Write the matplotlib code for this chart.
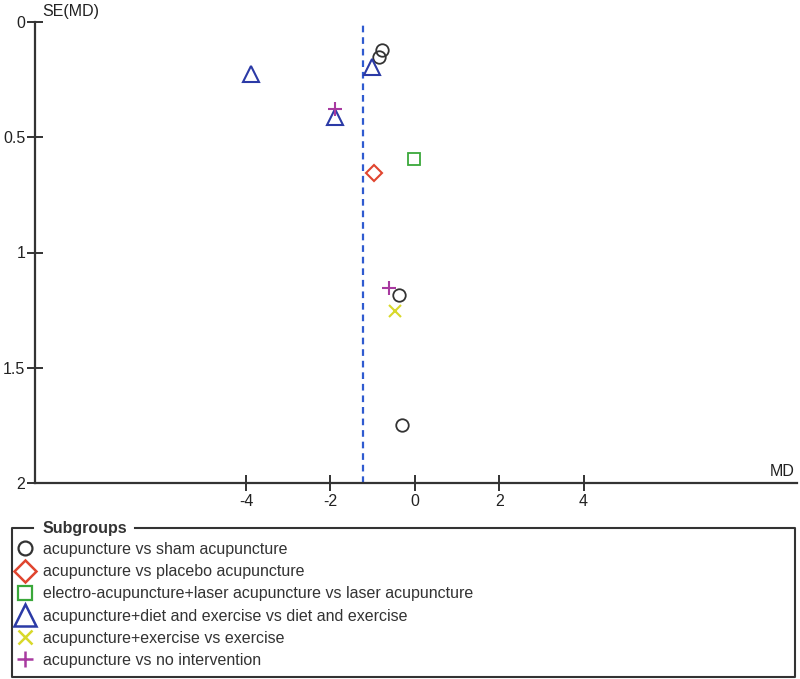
import matplotlib
matplotlib.use("Agg")
import matplotlib.pyplot as plt
from matplotlib.lines import Line2D

plt.rcParams['font.family'] = ['Liberation Sans', 'DejaVu Sans']

# ---- data ----
subgroups = [
    "acupuncture vs sham acupuncture",
    "acupuncture vs placebo acupuncture",
    "electro-acupuncture+laser acupuncture vs laser acupuncture",
    "acupuncture+diet and exercise vs diet and exercise",
    "acupuncture+exercise vs exercise",
    "acupuncture vs no intervention",
]
md_sham = [-0.77, -0.85, -0.38, -0.30]
se_sham = [0.123, 0.155, 1.184, 1.749]
md_placebo = [-0.97]
se_placebo = [0.655]
md_electro = [-0.02]
se_electro = [0.596]
md_diet = [-3.89, -1.01, -1.90]
se_diet = [0.227, 0.196, 0.413]
md_exercise = [-0.47]
se_exercise = [1.253]
md_noint = [-1.89, -0.61]
se_noint = [0.377, 1.152]
pooled_md = -1.23

x_ticks = [-4, -2, 0, 2, 4]
y_ticks = [0, 0.5, 1, 1.5, 2]
y_ticklabels = ["0", "0.5", "1", "1.5", "2"]

W, H = 800, 679
fig = plt.figure(figsize=(8.0, 6.79), dpi=100)
ax = fig.add_axes([35 / W, 1 - 483.3 / H, (796.7 - 35) / W, (483.3 - 21.7) / H])

# (x, y, marker, colour, plot size, legend size, edge width)
styles = [
    (md_sham, se_sham, 'o', '#333333', 9, 10, 1.3),
    (md_placebo, se_placebo, 'D', '#e0452f', 8.5, 11, 1.5),
    (md_electro, se_electro, 's', '#3aa83a', 8.5, 9.5, 1.3),
    (md_diet, se_diet, '^', '#2b3aa6', 12, 16, 1.5),
    (md_exercise, se_exercise, 'x', '#d8d82a', 9, 10, 1.5),
    (md_noint, se_noint, '+', '#a83aa0', 10, 11.5, 1.5),
]
handles = []
for (xs, ys, m, c, ms, lms, lw), lab in zip(styles, subgroups):
    ax.plot(xs, ys, linestyle='none', marker=m, markersize=ms, markerfacecolor='none',
            markeredgecolor=c, markeredgewidth=lw, zorder=3)
    handles.append(Line2D([], [], linestyle='none', marker=m, markersize=lms,
                          markerfacecolor='none', markeredgecolor=c,
                          markeredgewidth=lw + 0.3, label=lab))

ax.axvline(pooled_md, color='#2f5bd0', linestyle=(0, (3, 2.2)), linewidth=1.6, zorder=2)

ax.set_xlim(-9.0, 9.05)
ax.set_ylim(2, 0)
ax.set_xticks(x_ticks)
ax.set_xticklabels([str(v) for v in x_ticks])
ax.set_yticks(y_ticks)
ax.set_yticklabels(y_ticklabels)
for s in ['top', 'right']:
    ax.spines[s].set_visible(False)
for s in ['left', 'bottom']:
    ax.spines[s].set_color('#333333')
    ax.spines[s].set_linewidth(1.6)
ax.tick_params(axis='both', direction='inout', length=12, width=1.4, color='#333333',
               labelsize=11.5, labelcolor='#222222', pad=2)
ax.tick_params(axis='y', pad=1)

fig.text(42.7 / W, 1 - 11.7 / H, "SE(MD)", fontsize=11.5, color='#222222',
         ha='left', va='center')
fig.text(795 / W, 1 - 471.7 / H, "MD", fontsize=11.5, color='#222222',
         ha='right', va='center')

# legend
leg = fig.legend(handles=handles, loc='upper left',
                 bbox_to_anchor=(17 / W, 1 - 542 / H), frameon=False,
                 fontsize=11.5, labelspacing=0.45, handlelength=1.0,
                 handletextpad=0.62, borderpad=0, borderaxespad=0)
for t in leg.get_texts():
    t.set_color('#333333')

fig.text(43 / W, 1 - 528 / H, "Subgroups", fontsize=11.5, fontweight='bold',
         color='#333333', ha='left', va='center')
bc = '#333333'
blw = 1.5
def fl(xs, ys):
    fig.add_artist(Line2D([x / W for x in xs], [1 - y / H for y in ys],
                          color=bc, linewidth=blw, transform=fig.transFigure))
fl([33, 12, 12, 795, 795, 135], [528.3, 528.3, 676.5, 676.5, 528.3, 528.3])

fig.savefig("out.png", dpi=100)
